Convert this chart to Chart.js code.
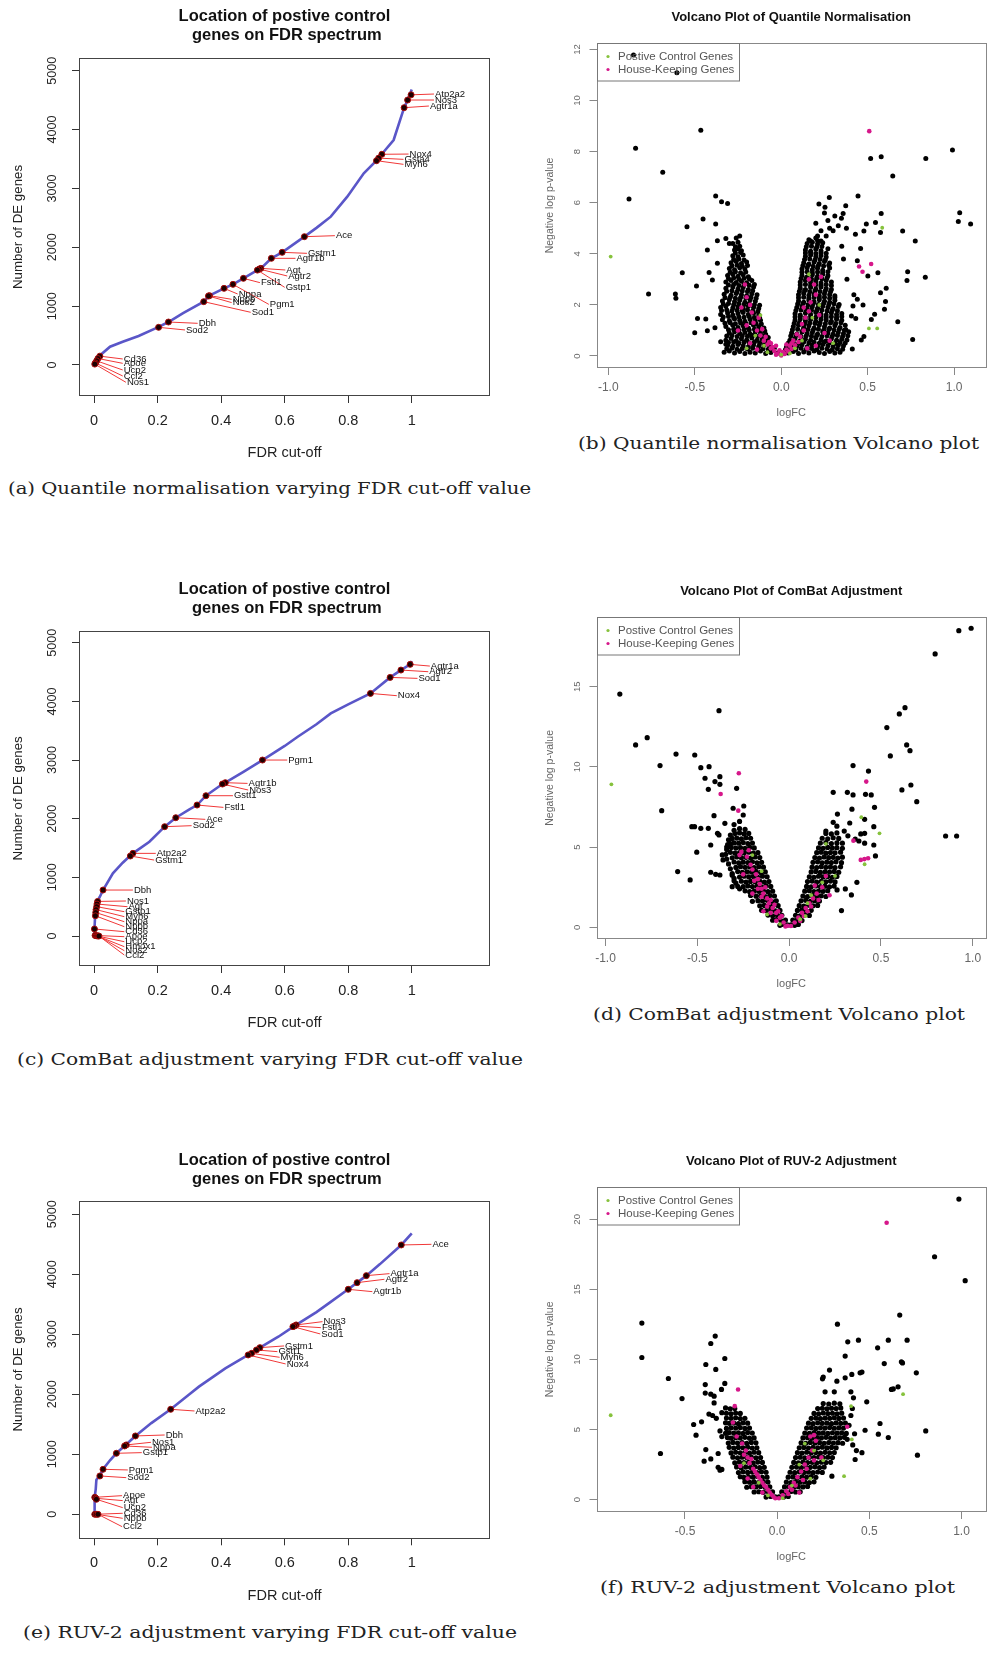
<!DOCTYPE html>
<html>
<head>
<meta charset="utf-8">
<script src="https://cdn.jsdelivr.net/npm/chart.js@4/dist/chart.umd.min.js"></script>
<style>
  html, body { margin: 0; padding: 0; background: #fff; }
  body { position: relative; width: 990px; height: 1679px; overflow: hidden; }
  canvas { position: absolute; }
  .cap { position: absolute; white-space: nowrap; font-family: "DejaVu Serif", "Liberation Serif", serif;
         font-size: 16px; line-height: 20px; color: #222; transform-origin: 0 50%; }
</style>
</head>
<body>
<canvas id="panelA" width="495" height="470" style="left:0px;top:0px"></canvas>
<canvas id="panelB" width="490" height="425" style="left:500px;top:0px"></canvas>
<canvas id="panelC" width="495" height="480" style="left:0px;top:560px"></canvas>
<canvas id="panelD" width="490" height="436" style="left:500px;top:560px"></canvas>
<canvas id="panelE" width="495" height="493" style="left:0px;top:1120px"></canvas>
<canvas id="panelF" width="490" height="449" style="left:500px;top:1120px"></canvas>

<div class="cap" style="left:8px;top:479px" data-width="523">(a) Quantile normalisation varying FDR cut-off value</div>
<div class="cap" style="left:578px;top:434px" data-width="401">(b) Quantile normalisation Volcano plot</div>
<div class="cap" style="left:17px;top:1050px" data-width="506">(c) ComBat adjustment varying FDR cut-off value</div>
<div class="cap" style="left:593px;top:1005px" data-width="372">(d) ComBat adjustment Volcano plot</div>
<div class="cap" style="left:23px;top:1623px" data-width="494">(e) RUV-2 adjustment varying FDR cut-off value</div>
<div class="cap" style="left:600px;top:1578px" data-width="355">(f) RUV-2 adjustment Volcano plot</div>

<script>
// ---- FDR spectrum panels ----
const fdrTitle = ['Location of postive control', ' genes on FDR spectrum'];
const fdrTicks = [0, 0.2, 0.4, 0.6, 0.8, 1];
const countTicks = [0, 1000, 2000, 3000, 4000, 5000];

// (a) quantile normalisation
const fdrCutA = [0, 0.005, 0.012, 0.02, 0.05, 0.09, 0.14, 0.2, 0.234, 0.28, 0.345, 0.363, 0.409, 0.437, 0.47, 0.506, 0.525, 0.558, 0.592, 0.662, 0.7, 0.745, 0.797, 0.849, 0.891, 0.906, 0.943, 0.976, 0.987, 1.0];
const deCountA = [0, 40, 110, 170, 311, 396, 493, 640, 730, 880, 1076, 1178, 1302, 1370, 1472, 1585, 1642, 1812, 1914, 2180, 2330, 2520, 2860, 3257, 3483, 3585, 3823, 4372, 4502, 4680];
const genesA = ['Atp2a2', 'Nos3', 'Agtr1a', 'Nox4', 'Gsta4', 'Myh6', 'Ace', 'Gstm1', 'Agtr1b', 'Agt', 'Agtr2', 'Gstp1', 'Fstl1', 'Pgm1', 'Nppa', 'Nppb', 'Nos2', 'Sod1', 'Dbh', 'Sod2', 'Cd36', 'Apoe', 'Ucp2', 'Ccl2', 'Nos1'];
const genePosA = [[0.998, 4590], [0.987, 4502], [0.976, 4372], [0.906, 3580], [0.896, 3515], [0.889, 3471], [0.662, 2180], [0.592, 1914], [0.558, 1812], [0.525, 1642], [0.52, 1630], [0.514, 1612], [0.47, 1472], [0.437, 1370], [0.409, 1302], [0.363, 1178], [0.36, 1172], [0.345, 1076], [0.234, 730], [0.203, 640], [0.018, 150], [0.012, 110], [0.008, 70], [0.004, 35], [0.002, 15]];
const labelPosA = [[1.07, 4604], [1.07, 4502], [1.054, 4400], [0.99, 3584], [0.974, 3494], [0.974, 3409], [0.758, 2197], [0.67, 1897], [0.634, 1812], [0.602, 1614], [0.608, 1512], [0.6, 1319], [0.522, 1399], [0.55, 1030], [0.452, 1206], [0.433, 1116], [0.433, 1060], [0.493, 895], [0.326, 708], [0.286, 595], [0.09, 102], [0.09, 28], [0.09, -85], [0.09, -187], [0.1, -294]];

// (c) ComBat
const fdrCutC = [0, 0.001, 0.003, 0.007, 0.018, 0.028, 0.059, 0.09, 0.116, 0.122, 0.174, 0.222, 0.257, 0.3, 0.324, 0.352, 0.404, 0.413, 0.47, 0.53, 0.6, 0.641, 0.7, 0.745, 0.8, 0.87, 0.932, 0.966, 0.995, 1.0];
const deCountC = [0, 120, 340, 557, 670, 784, 1068, 1250, 1380, 1409, 1608, 1864, 2017, 2160, 2233, 2392, 2591, 2614, 2800, 3000, 3240, 3398, 3610, 3795, 3950, 4136, 4409, 4534, 4631, 4688];
const genesC = ['Agtr1a', 'Agtr2', 'Sod1', 'Nox4', 'Pgm1', 'Agtr1b', 'Nos3', 'Gstt1', 'Fstl1', 'Ace', 'Sod2', 'Atp2a2', 'Gstm1', 'Dbh', 'Nos1', 'Agt', 'Gstp1', 'Myh6', 'Nppa', 'Nppb', 'Cd36', 'Apoe', 'Ucp2', 'Hmox1', 'Nos2', 'Ccl2'];
const genePosC = [[0.995, 4631], [0.966, 4534], [0.932, 4409], [0.87, 4136], [0.53, 3000], [0.413, 2614], [0.404, 2591], [0.352, 2392], [0.324, 2233], [0.257, 2017], [0.222, 1864], [0.122, 1409], [0.114, 1364], [0.028, 784], [0.011, 590], [0.009, 545], [0.008, 500], [0.006, 450], [0.005, 400], [0.004, 345], [0.001, 120], [0.003, 10], [0.006, 5], [0.009, 3], [0.012, 2], [0.015, 0]];
const labelPosC = [[1.057, 4602], [1.052, 4506], [1.018, 4392], [0.953, 4097], [0.608, 3000], [0.483, 2602], [0.485, 2489], [0.437, 2392], [0.407, 2193], [0.35, 1989], [0.307, 1881], [0.194, 1409], [0.189, 1295], [0.122, 784], [0.1, 597], [0.105, 500], [0.095, 415], [0.095, 330], [0.095, 244], [0.095, 159], [0.095, 74], [0.095, -11], [0.095, -97], [0.095, -182], [0.095, -250], [0.095, -324]];

// (e) RUV-2
const fdrCutE = [0, 0.001, 0.002, 0.005, 0.007, 0.012, 0.018, 0.028, 0.05, 0.07, 0.099, 0.13, 0.18, 0.241, 0.3, 0.33, 0.413, 0.485, 0.522, 0.58, 0.631, 0.7, 0.745, 0.8, 0.828, 0.857, 0.9, 0.967, 1.0];
const deCountE = [0, 150, 283, 420, 572, 610, 639, 750, 900, 1017, 1156, 1306, 1520, 1750, 2000, 2128, 2433, 2656, 2778, 2960, 3140, 3370, 3540, 3750, 3861, 3978, 4170, 4489, 4683];
const genesE = ['Ace', 'Agtr1a', 'Agtr2', 'Agtr1b', 'Nos3', 'Fstl1', 'Sod1', 'Gstm1', 'Gstt1', 'Myh6', 'Nox4', 'Atp2a2', 'Dbh', 'Nos1', 'Nppa', 'Gstp1', 'Pgm1', 'Sod2', 'Apoe', 'Agt', 'Ucp2', 'Cd36', 'Nppb', 'Ccl2'];
const genePosE = [[0.967, 4489], [0.857, 3978], [0.828, 3861], [0.8, 3750], [0.636, 3156], [0.631, 3139], [0.626, 3128], [0.522, 2778], [0.511, 2739], [0.496, 2683], [0.485, 2656], [0.241, 1750], [0.13, 1306], [0.101, 1156], [0.096, 1139], [0.07, 1017], [0.028, 750], [0.018, 639], [0.002, 283], [0.005, 267], [0.007, 250], [0.002, 0], [0.007, 0], [0.012, 0]];
const labelPosE = [[1.062, 4500], [0.93, 4011], [0.914, 3917], [0.876, 3711], [0.719, 3211], [0.714, 3111], [0.712, 3006], [0.598, 2806], [0.577, 2711], [0.584, 2617], [0.603, 2506], [0.316, 1722], [0.222, 1322], [0.179, 1200], [0.182, 1117], [0.15, 1028], [0.106, 739], [0.101, 611], [0.088, 311], [0.09, 228], [0.09, 111], [0.09, 17], [0.09, -67], [0.088, -206]];

// ---- Volcano panels ----
const logFcTicks = [-1, -0.5, 0, 0.5, 1];
const logFcTicksF = [-0.5, 0, 0.5, 1];
const pTicksB = [0, 2, 4, 6, 8, 10, 12];
const pTicksD = [0, 5, 10, 15];
const pTicksF = [0, 5, 10, 15, 20];
const legendLabels = ['Postive Control Genes', 'House-Keeping Genes'];

// (b) quantile normalisation: [logFC, -log p]
const pcgB = [[-0.986, 3.89], [0.584, 5.02], [0.507, 1.08], [0.555, 1.08], [0.16, 3.2], [0.12, 0.6], [0.08, 0.3], [-0.1, 0.4], [-0.15, 0.8], [-0.08, 0.15], [0.05, 0.1], [0.18, 1.5], [0.22, 2.0], [-0.12, 1.6], [0.3, 0.5], [-0.2, 0.3], [0.0, 0.05]];
const hkgB = [[0.509, 8.8], [0, 0.02], [-0.02, 0.1], [0.02, 0.08], [-0.04, 0.2], [0.04, 0.18], [-0.06, 0.3], [0.06, 0.28], [-0.03, 0.05], [0.01, 0.15], [-0.08, 0.45], [0.08, 0.42], [-0.05, 0.35], [0.05, 0.4], [-0.1, 0.6], [0.1, 0.55], [-0.07, 0.55], [0.07, 0.6], [-0.12, 0.8], [0.11, 0.75], [-0.09, 0.75], [0.09, 0.85], [-0.14, 1.0], [0.13, 1.0], [-0.11, 1.05], [0.12, 1.25], [-0.16, 1.3], [-0.13, 1.5], [0.14, 1.5], [-0.17, 1.7], [0.16, 1.75], [0.13, 1.9], [-0.18, 2.0], [0.17, 2.1], [0.2, 2.4], [0.19, 2.8], [0.16, 3.0], [0.23, 3.1], [-0.2, 2.3], [-0.21, 2.8], [-0.23, 1.9], [-0.2, 1.2], [0.22, 1.6], [0.25, 0.9], [0.28, 0.6], [0.45, 3.5], [0.47, 3.3], [0.52, 3.6], [0.2, 0.4], [-0.18, 0.5], [-0.25, 1.0], [0.15, 0.3], [-0.14, 0.25], [-0.01, 0.22], [0.03, 0.25], [-0.06, 0.5], [0.06, 0.5], [-0.03, 0.4], [0.03, 0.45]];
const otherB = [
  [-0.854, 11.78], [-0.603, 11.09], [-0.465, 8.84], [-0.842, 8.13], [-0.685, 7.19], [-0.88, 6.14], [-0.379, 6.26], [-0.345, 6.04], [-0.31, 5.97], [-0.452, 5.36], [-0.545, 5.06], [-0.379, 5.17], [-0.369, 4.51], [-0.427, 4.15], [-0.369, 3.63], [-0.572, 3.26], [-0.417, 3.27], [-0.398, 2.97], [-0.767, 2.43], [-0.612, 2.43], [-0.609, 2.26], [-0.49, 2.74], [-0.484, 1.47], [-0.436, 1.45], [-0.427, 0.99], [-0.5, 0.91], [-0.383, 1.11], [-0.35, 0.56], [-0.32, 0.46],
  [0.517, 7.73], [0.578, 7.8], [0.99, 8.06], [0.836, 7.73], [0.645, 7.04], [0.444, 6.26], [0.278, 6.2], [0.218, 5.95], [0.253, 5.82], [0.373, 5.88], [0.578, 5.58], [1.032, 5.61], [1.024, 5.26], [1.095, 5.17], [0.545, 5.22], [0.492, 5.17], [0.478, 4.89], [0.429, 4.76], [0.574, 4.83], [0.702, 4.89], [0.775, 4.5], [0.31, 5.48], [0.358, 5.58], [0.33, 5.1], [0.377, 5.0], [0.348, 5.39], [0.459, 4.21], [0.44, 3.73], [0.559, 3.26], [0.501, 3.13], [0.731, 3.3], [0.727, 2.95], [0.833, 3.08], [0.607, 2.65], [0.574, 2.48], [0.603, 2.13], [0.597, 1.83], [0.54, 1.63], [0.521, 1.43], [0.674, 1.34], [0.473, 2.0], [0.44, 2.22], [0.415, 1.96], [0.406, 1.57], [0.431, 1.47], [0.478, 0.76], [0.463, 0.63], [0.411, 0.27], [0.76, 0.65], [0.373, 1.04], [0.42, 2.4], [0.38, 3.0], [0.36, 3.8], [0.35, 4.3], [0.27, 5.3], [0.3, 4.9], [0.25, 5.6], [0.2, 5.2], [0.23, 4.9], [0.26, 4.7], [0.28, 5.0], [0.21, 4.7],
  [-0.33, 0.15], [-0.3, 0.2], [-0.27, 0.12], [-0.24, 0.18], [-0.21, 0.1], [-0.18, 0.15], [-0.15, 0.12], [-0.12, 0.2], [-0.09, 0.1], [-0.06, 0.14],
  [-0.31, 0.42], [-0.28, 0.38], [-0.25, 0.45], [-0.22, 0.4], [-0.19, 0.36], [-0.16, 0.43], [-0.13, 0.38], [-0.1, 0.42], [-0.07, 0.35], [-0.04, 0.3],
  [-0.32, 0.62], [-0.29, 0.68], [-0.26, 0.6], [-0.23, 0.67], [-0.2, 0.63], [-0.17, 0.7], [-0.14, 0.62], [-0.11, 0.66], [-0.08, 0.6],
  [-0.3, 0.9], [-0.27, 0.95], [-0.24, 0.88], [-0.21, 0.92], [-0.18, 0.86], [-0.15, 0.94], [-0.12, 0.9], [-0.09, 0.85],
  [-0.32, 1.15], [-0.28, 1.2], [-0.25, 1.12], [-0.22, 1.18], [-0.19, 1.1], [-0.16, 1.2], [-0.13, 1.14], [-0.1, 1.1],
  [-0.34, 1.42], [-0.3, 1.38], [-0.27, 1.45], [-0.24, 1.4], [-0.21, 1.36], [-0.18, 1.44], [-0.15, 1.38], [-0.12, 1.4],
  [-0.35, 1.62], [-0.31, 1.68], [-0.28, 1.6], [-0.25, 1.66], [-0.22, 1.7], [-0.19, 1.62], [-0.16, 1.67], [-0.13, 1.6],
  [-0.35, 1.9], [-0.32, 1.95], [-0.28, 1.88], [-0.25, 1.93], [-0.22, 1.87], [-0.19, 1.95], [-0.16, 1.9], [-0.13, 1.86],
  [-0.34, 2.15], [-0.3, 2.2], [-0.27, 2.12], [-0.24, 2.18], [-0.21, 2.1], [-0.18, 2.2], [-0.15, 2.14],
  [-0.33, 2.42], [-0.29, 2.38], [-0.26, 2.45], [-0.23, 2.4], [-0.2, 2.36], [-0.17, 2.44], [-0.14, 2.4],
  [-0.32, 2.65], [-0.28, 2.7], [-0.25, 2.62], [-0.22, 2.68], [-0.19, 2.6], [-0.16, 2.7],
  [-0.32, 2.9], [-0.29, 2.95], [-0.26, 2.88], [-0.23, 2.93], [-0.2, 2.87], [-0.17, 2.95],
  [-0.31, 3.15], [-0.28, 3.2], [-0.25, 3.12], [-0.22, 3.18], [-0.19, 3.1],
  [-0.3, 3.42], [-0.27, 3.38], [-0.24, 3.45], [-0.21, 3.4],
  [-0.29, 3.65], [-0.26, 3.7], [-0.23, 3.62], [-0.2, 3.68],
  [-0.28, 3.92], [-0.25, 3.88], [-0.22, 3.95],
  [-0.27, 4.15], [-0.25, 4.2], [-0.23, 4.12],
  [-0.28, 4.4], [-0.25, 4.45], [-0.26, 4.62], [-0.24, 4.7], [-0.32, 4.6], [-0.3, 4.4],
  [-0.315, 0.28], [-0.285, 0.3], [-0.255, 0.26], [-0.225, 0.29], [-0.195, 0.27], [-0.165, 0.3], [-0.135, 0.26], [-0.105, 0.28], [-0.075, 0.25], [-0.045, 0.22], [-0.02, 0.12],
  [-0.305, 0.53], [-0.275, 0.55], [-0.245, 0.51], [-0.215, 0.54], [-0.185, 0.52], [-0.155, 0.55], [-0.125, 0.51], [-0.095, 0.53], [-0.065, 0.48],
  [-0.315, 0.78], [-0.285, 0.8], [-0.255, 0.76], [-0.225, 0.79], [-0.195, 0.77], [-0.165, 0.8], [-0.135, 0.76], [-0.105, 0.78], [-0.075, 0.72],
  [-0.305, 1.03], [-0.275, 1.05], [-0.245, 1.01], [-0.215, 1.04], [-0.185, 1.02], [-0.155, 1.05], [-0.125, 1.01], [-0.095, 0.98],
  [-0.325, 1.28], [-0.295, 1.3], [-0.265, 1.26], [-0.235, 1.29], [-0.205, 1.27], [-0.175, 1.3], [-0.145, 1.26], [-0.115, 1.25],
  [-0.335, 1.53], [-0.305, 1.55], [-0.275, 1.51], [-0.245, 1.54], [-0.215, 1.52], [-0.185, 1.55], [-0.155, 1.51], [-0.125, 1.5],
  [-0.345, 1.78], [-0.315, 1.8], [-0.285, 1.76], [-0.255, 1.79], [-0.225, 1.77], [-0.195, 1.8], [-0.165, 1.76], [-0.135, 1.74],
  [-0.335, 2.03], [-0.305, 2.05], [-0.275, 2.01], [-0.245, 2.04], [-0.215, 2.02], [-0.185, 2.05], [-0.155, 2.01], [-0.125, 1.99],
  [-0.325, 2.28], [-0.295, 2.3], [-0.265, 2.26], [-0.235, 2.29], [-0.205, 2.27], [-0.175, 2.3], [-0.145, 2.26],
  [-0.315, 2.53], [-0.285, 2.55], [-0.255, 2.51], [-0.225, 2.54], [-0.195, 2.52], [-0.165, 2.55],
  [-0.305, 2.78], [-0.275, 2.8], [-0.245, 2.76], [-0.215, 2.79], [-0.185, 2.77], [-0.155, 2.8],
  [-0.305, 3.03], [-0.275, 3.05], [-0.245, 3.01], [-0.215, 3.04], [-0.185, 3.02],
  [-0.295, 3.28], [-0.265, 3.3], [-0.235, 3.26], [-0.205, 3.29],
  [-0.285, 3.53], [-0.255, 3.55], [-0.225, 3.51], [-0.195, 3.54],
  [-0.275, 3.78], [-0.245, 3.8], [-0.215, 3.76],
  [-0.265, 4.03], [-0.235, 4.05], [-0.265, 4.28], [-0.24, 4.3],
  [0.04, 0.12], [0.07, 0.18], [0.1, 0.1], [0.13, 0.16], [0.16, 0.12], [0.19, 0.2], [0.22, 0.14], [0.25, 0.1], [0.28, 0.18], [0.31, 0.12], [0.34, 0.15],
  [0.03, 0.35], [0.06, 0.42], [0.09, 0.38], [0.12, 0.44], [0.15, 0.36], [0.18, 0.42], [0.21, 0.38], [0.24, 0.45], [0.27, 0.4], [0.3, 0.36], [0.33, 0.42], [0.36, 0.4],
  [0.05, 0.62], [0.08, 0.68], [0.11, 0.6], [0.14, 0.66], [0.17, 0.62], [0.2, 0.7], [0.23, 0.64], [0.26, 0.6], [0.29, 0.67], [0.32, 0.62], [0.35, 0.66], [0.38, 0.63],
  [0.06, 0.9], [0.09, 0.86], [0.12, 0.94], [0.15, 0.88], [0.18, 0.92], [0.21, 0.86], [0.24, 0.95], [0.27, 0.9], [0.3, 0.86], [0.33, 0.92], [0.36, 0.88], [0.39, 0.95],
  [0.07, 1.15], [0.1, 1.2], [0.13, 1.12], [0.16, 1.18], [0.19, 1.1], [0.22, 1.2], [0.25, 1.14], [0.28, 1.1], [0.31, 1.18], [0.34, 1.12], [0.37, 1.2],
  [0.08, 1.4], [0.11, 1.45], [0.14, 1.38], [0.17, 1.43], [0.2, 1.36], [0.23, 1.44], [0.26, 1.4], [0.29, 1.36], [0.32, 1.44], [0.35, 1.4],
  [0.08, 1.65], [0.11, 1.6], [0.14, 1.68], [0.17, 1.62], [0.2, 1.7], [0.23, 1.64], [0.26, 1.6], [0.29, 1.68], [0.32, 1.62], [0.35, 1.66],
  [0.09, 1.9], [0.12, 1.95], [0.15, 1.88], [0.18, 1.93], [0.21, 1.87], [0.24, 1.95], [0.27, 1.9], [0.3, 1.86], [0.33, 1.94],
  [0.1, 2.15], [0.13, 2.1], [0.16, 2.18], [0.19, 2.12], [0.22, 2.2], [0.25, 2.14], [0.28, 2.1], [0.31, 2.18],
  [0.1, 2.4], [0.13, 2.45], [0.16, 2.38], [0.19, 2.43], [0.22, 2.36], [0.25, 2.44], [0.28, 2.4], [0.31, 2.36],
  [0.11, 2.65], [0.14, 2.6], [0.17, 2.68], [0.2, 2.62], [0.23, 2.7], [0.26, 2.64], [0.29, 2.6],
  [0.11, 2.9], [0.14, 2.95], [0.17, 2.88], [0.2, 2.93], [0.23, 2.86], [0.26, 2.95], [0.29, 2.9],
  [0.12, 3.15], [0.15, 3.1], [0.18, 3.18], [0.21, 3.12], [0.24, 3.2], [0.27, 3.14],
  [0.12, 3.4], [0.15, 3.45], [0.18, 3.38], [0.21, 3.43], [0.24, 3.36], [0.28, 3.44],
  [0.13, 3.65], [0.16, 3.6], [0.19, 3.68], [0.22, 3.62], [0.25, 3.7], [0.28, 3.64],
  [0.14, 3.9], [0.17, 3.95], [0.2, 3.88], [0.23, 3.93], [0.26, 3.87],
  [0.14, 4.15], [0.17, 4.1], [0.2, 4.18], [0.23, 4.12], [0.27, 4.2],
  [0.15, 4.4], [0.18, 4.45], [0.21, 4.38], [0.24, 4.43],
  [0.16, 4.55], [0.2, 4.62], [0.23, 4.5],
  [0.025, 0.25], [0.055, 0.28], [0.085, 0.24], [0.115, 0.3], [0.145, 0.26], [0.175, 0.29], [0.205, 0.25], [0.235, 0.3], [0.265, 0.27], [0.295, 0.24], [0.325, 0.28], [0.355, 0.26],
  [0.04, 0.5], [0.07, 0.53], [0.1, 0.49], [0.13, 0.55], [0.16, 0.51], [0.19, 0.54], [0.22, 0.5], [0.25, 0.55], [0.28, 0.52], [0.31, 0.49], [0.34, 0.53], [0.37, 0.51],
  [0.055, 0.78], [0.085, 0.8], [0.115, 0.76], [0.145, 0.79], [0.175, 0.77], [0.205, 0.8], [0.235, 0.76], [0.265, 0.79], [0.295, 0.77], [0.325, 0.8], [0.355, 0.76], [0.385, 0.79],
  [0.065, 1.03], [0.095, 1.05], [0.125, 1.01], [0.155, 1.04], [0.185, 1.02], [0.215, 1.05], [0.245, 1.01], [0.275, 1.04], [0.305, 1.02], [0.335, 1.05], [0.365, 1.01],
  [0.075, 1.28], [0.105, 1.3], [0.135, 1.26], [0.165, 1.29], [0.195, 1.27], [0.225, 1.3], [0.255, 1.26], [0.285, 1.29], [0.315, 1.27], [0.345, 1.3],
  [0.08, 1.53], [0.11, 1.55], [0.14, 1.51], [0.17, 1.54], [0.2, 1.52], [0.23, 1.55], [0.26, 1.51], [0.29, 1.54], [0.32, 1.52], [0.35, 1.55],
  [0.085, 1.78], [0.115, 1.8], [0.145, 1.76], [0.175, 1.79], [0.205, 1.77], [0.235, 1.8], [0.265, 1.76], [0.295, 1.79], [0.325, 1.77],
  [0.095, 2.03], [0.125, 2.05], [0.155, 2.01], [0.185, 2.04], [0.215, 2.02], [0.245, 2.05], [0.275, 2.01], [0.305, 2.04], [0.335, 2.02],
  [0.1, 2.28], [0.13, 2.3], [0.16, 2.26], [0.19, 2.29], [0.22, 2.27], [0.25, 2.3], [0.28, 2.26], [0.31, 2.29],
  [0.105, 2.53], [0.135, 2.55], [0.165, 2.51], [0.195, 2.54], [0.225, 2.52], [0.255, 2.55], [0.285, 2.51],
  [0.11, 2.78], [0.14, 2.8], [0.17, 2.76], [0.2, 2.79], [0.23, 2.77], [0.26, 2.8], [0.29, 2.76],
  [0.115, 3.03], [0.145, 3.05], [0.175, 3.01], [0.205, 3.04], [0.235, 3.02], [0.265, 3.05],
  [0.12, 3.28], [0.15, 3.3], [0.18, 3.26], [0.21, 3.29], [0.24, 3.27], [0.27, 3.3],
  [0.125, 3.53], [0.155, 3.55], [0.185, 3.51], [0.215, 3.54], [0.245, 3.52], [0.275, 3.55],
  [0.135, 3.78], [0.165, 3.8], [0.195, 3.76], [0.225, 3.79], [0.255, 3.77],
  [0.14, 4.03], [0.17, 4.05], [0.2, 4.01], [0.23, 4.04], [0.26, 4.02],
  [0.145, 4.28], [0.175, 4.3], [0.205, 4.26], [0.235, 4.29], [0.17, 4.5], [0.21, 4.52]
];

// (d) ComBat
const pcgD = [[-0.968, 8.91], [0.393, 6.86], [0.492, 5.86], [0.411, 3.93], [0.1, 1.5], [0.12, 2.0], [0.2, 5.2], [-0.15, 3.5], [-0.12, 0.8], [0.06, 0.5], [0.25, 3.2], [0.18, 2.8], [-0.2, 4.5], [-0.05, 0.2], [0.09, 0.7]];
const hkgD = [[-0.274, 9.6], [0.42, 9.08], [-0.373, 8.31], [-0.277, 7.27], [0.39, 4.2], [0.41, 4.25], [0.43, 4.3], [0.35, 5.4],
  [-0.01, 0.1], [-0.03, 0.3], [-0.05, 0.6], [-0.07, 0.9], [-0.09, 1.2], [-0.11, 1.5], [-0.12, 1.8], [-0.14, 2.1], [-0.15, 2.4], [-0.16, 2.7], [-0.17, 3.0], [-0.18, 3.3], [-0.2, 3.6], [-0.04, 0.7], [-0.06, 1.0], [-0.08, 1.4], [-0.1, 1.7], [-0.13, 2.5], [-0.19, 2.9], [-0.17, 2.4], [-0.15, 1.9], [-0.12, 1.3], [-0.1, 0.9], [-0.21, 3.9], [-0.23, 4.4], [-0.26, 4.7], [-0.27, 4.5], [-0.22, 4.8], [-0.25, 3.3], [-0.2, 2.1], [-0.14, 1.0], [-0.07, 0.4], [-0.02, 0.05],
  [0.01, 0.08], [0.03, 0.3], [0.05, 0.6], [0.07, 0.9], [0.09, 1.2], [0.11, 1.5], [0.13, 1.8], [0.15, 2.1], [0.06, 0.4], [0.08, 0.7], [0.1, 1.0], [0.12, 1.3], [0.16, 1.7], [0.18, 2.5], [0.2, 3.2], [0.14, 2.6], [0.22, 2.0]];
const otherD = [
  [0.991, 18.64], [0.924, 18.49], [0.795, 17.04], [-0.922, 14.54], [-0.382, 13.5], [0.631, 13.69], [0.6, 13.3], [0.532, 12.45], [-0.773, 11.82], [-0.836, 11.37], [0.64, 11.37], [0.658, 11.01], [-0.616, 10.8], [-0.514, 10.74], [0.551, 10.68], [-0.703, 10.08], [-0.481, 9.95], [-0.436, 10.01], [0.348, 10.08], [0.432, 9.74], [-0.458, 9.29], [-0.404, 9.08], [-0.377, 9.39], [-0.377, 8.91], [-0.44, 8.6], [-0.286, 8.66], [0.663, 8.87], [0.614, 8.56], [0.24, 8.41], [0.317, 8.41], [0.348, 8.25], [0.416, 8.29], [0.447, 8.25], [0.695, 7.83], [-0.694, 7.27], [-0.305, 7.42], [-0.247, 7.56], [0.465, 7.48], [0.342, 7.36], [0.263, 7.06], [-0.409, 6.96], [0.411, 6.73], [0.24, 6.54], [-0.53, 6.27], [-0.515, 6.27], [-0.481, 6.17], [-0.44, 6.17], [-0.35, 6.48], [0.461, 6.27], [-0.382, 5.76], [-0.39, 5.86], [0.411, 5.86], [0.39, 5.82], [0.36, 5.5], [0.38, 5.38], [0.411, 5.24], [-0.427, 5.13], [0.461, 5.13], [-0.503, 4.68], [0.47, 4.45], [-0.364, 4.51], [-0.427, 3.43], [-0.4, 3.3], [-0.377, 3.26], [-0.607, 3.47], [-0.539, 2.95], [0.369, 2.8], [0.261, 2.33], [0.306, 2.39], [0.339, 2.02], [0.285, 1.04], [-0.31, 2.53], [0.852, 5.69], [0.912, 5.69], [-0.25, 7.0], [-0.27, 6.6], [-0.3, 6.4], [0.3, 6.0], [0.32, 5.7], [0.26, 6.3], [0.33, 6.5], [0.2, 6.0], [-0.34, 5.0], [-0.36, 4.2],
  [-0.27, 2.4], [-0.29, 2.75], [-0.3, 3.05], [-0.31, 3.35], [-0.32, 3.65], [-0.33, 3.95], [-0.34, 4.25], [-0.345, 4.55], [-0.34, 4.85], [-0.335, 5.15], [-0.33, 5.45], [-0.32, 5.75], [-0.28, 2.55], [-0.3, 2.9], [-0.31, 3.25],
  [-0.01, 0.15], [-0.03, 0.18], [-0.05, 0.12],
  [-0.02, 0.45], [-0.045, 0.42], [-0.07, 0.48], [-0.09, 0.44],
  [-0.04, 0.75], [-0.065, 0.78], [-0.09, 0.72], [-0.115, 0.76],
  [-0.05, 1.05], [-0.075, 1.02], [-0.1, 1.08], [-0.125, 1.04], [-0.15, 1.06],
  [-0.06, 1.35], [-0.085, 1.38], [-0.11, 1.32], [-0.135, 1.36], [-0.16, 1.34],
  [-0.07, 1.65], [-0.095, 1.62], [-0.12, 1.68], [-0.145, 1.64], [-0.17, 1.66], [-0.2, 1.62],
  [-0.08, 1.95], [-0.105, 1.98], [-0.13, 1.92], [-0.155, 1.96], [-0.18, 1.94], [-0.21, 1.98],
  [-0.09, 2.25], [-0.115, 2.22], [-0.14, 2.28], [-0.165, 2.24], [-0.19, 2.26], [-0.215, 2.22], [-0.24, 2.27],
  [-0.1, 2.55], [-0.125, 2.58], [-0.15, 2.52], [-0.175, 2.56], [-0.2, 2.54], [-0.225, 2.58], [-0.25, 2.53],
  [-0.11, 2.85], [-0.135, 2.82], [-0.16, 2.88], [-0.185, 2.84], [-0.21, 2.86], [-0.235, 2.82], [-0.26, 2.87],
  [-0.12, 3.15], [-0.145, 3.18], [-0.17, 3.12], [-0.195, 3.16], [-0.22, 3.14], [-0.245, 3.18], [-0.27, 3.13],
  [-0.13, 3.45], [-0.155, 3.42], [-0.18, 3.48], [-0.205, 3.44], [-0.23, 3.46], [-0.255, 3.42], [-0.28, 3.47],
  [-0.14, 3.75], [-0.165, 3.78], [-0.19, 3.72], [-0.215, 3.76], [-0.24, 3.74], [-0.265, 3.78], [-0.29, 3.73],
  [-0.15, 4.05], [-0.175, 4.02], [-0.2, 4.08], [-0.225, 4.04], [-0.25, 4.06], [-0.275, 4.02], [-0.3, 4.07],
  [-0.16, 4.35], [-0.185, 4.38], [-0.21, 4.32], [-0.235, 4.36], [-0.26, 4.34], [-0.285, 4.38], [-0.31, 4.33],
  [-0.17, 4.65], [-0.195, 4.62], [-0.22, 4.68], [-0.245, 4.64], [-0.27, 4.66], [-0.295, 4.62], [-0.32, 4.67],
  [-0.19, 4.95], [-0.215, 4.98], [-0.24, 4.92], [-0.265, 4.96], [-0.29, 4.94], [-0.315, 4.98],
  [-0.2, 5.25], [-0.225, 5.22], [-0.25, 5.28], [-0.275, 5.24], [-0.3, 5.26], [-0.32, 5.22],
  [-0.21, 5.55], [-0.235, 5.58], [-0.26, 5.52], [-0.285, 5.56], [-0.31, 5.54],
  [-0.22, 5.85], [-0.245, 5.82], [-0.27, 5.88], [-0.295, 5.84],
  [-0.24, 6.1], [-0.27, 6.15], [-0.3, 6.05],
  [0.01, 0.15], [0.03, 0.12], [0.05, 0.18],
  [0.02, 0.45], [0.045, 0.48], [0.07, 0.42],
  [0.035, 0.75], [0.06, 0.72], [0.085, 0.78], [0.11, 0.74],
  [0.045, 1.05], [0.07, 1.08], [0.095, 1.02], [0.12, 1.06],
  [0.055, 1.35], [0.08, 1.32], [0.105, 1.38], [0.13, 1.34], [0.155, 1.36],
  [0.065, 1.65], [0.09, 1.68], [0.115, 1.62], [0.14, 1.66], [0.165, 1.64],
  [0.075, 1.95], [0.1, 1.92], [0.125, 1.98], [0.15, 1.94], [0.175, 1.96], [0.2, 1.92],
  [0.085, 2.25], [0.11, 2.28], [0.135, 2.22], [0.16, 2.26], [0.185, 2.24], [0.21, 2.28],
  [0.095, 2.55], [0.12, 2.52], [0.145, 2.58], [0.17, 2.54], [0.195, 2.56], [0.22, 2.52], [0.245, 2.57],
  [0.1, 2.85], [0.125, 2.88], [0.15, 2.82], [0.175, 2.86], [0.2, 2.84], [0.225, 2.88], [0.25, 2.83],
  [0.11, 3.15], [0.135, 3.12], [0.16, 3.18], [0.185, 3.14], [0.21, 3.16], [0.235, 3.12], [0.26, 3.17],
  [0.12, 3.45], [0.145, 3.48], [0.17, 3.42], [0.195, 3.46], [0.22, 3.44], [0.245, 3.48], [0.27, 3.43],
  [0.125, 3.75], [0.15, 3.72], [0.175, 3.78], [0.2, 3.74], [0.225, 3.76], [0.25, 3.72], [0.28, 3.77],
  [0.13, 4.05], [0.155, 4.08], [0.18, 4.02], [0.205, 4.06], [0.23, 4.04], [0.255, 4.08], [0.285, 4.03],
  [0.14, 4.35], [0.165, 4.32], [0.19, 4.38], [0.215, 4.34], [0.24, 4.36], [0.265, 4.32], [0.29, 4.37],
  [0.15, 4.65], [0.175, 4.68], [0.2, 4.62], [0.225, 4.66], [0.25, 4.64], [0.28, 4.68],
  [0.16, 4.95], [0.185, 4.92], [0.21, 4.98], [0.235, 4.94], [0.26, 4.96], [0.29, 4.92],
  [0.17, 5.25], [0.2, 5.28], [0.23, 5.22], [0.26, 5.26], [0.29, 5.24],
  [0.18, 5.55], [0.21, 5.52], [0.24, 5.58], [0.27, 5.54],
  [0.2, 5.85], [0.23, 5.82], [0.26, 5.88]
];

// (f) RUV-2
const pcgF = [[-0.903, 6.02], [0.683, 7.52], [0.401, 6.67], [0.405, 4.29], [0.363, 1.67], [0.15, 4.0], [0.2, 3.5], [0.12, 2.5], [0.08, 1.0], [-0.05, 0.3], [-0.1, 1.2], [0.03, 0.1], [0.25, 2.8], [0.18, 1.5], [-0.18, 2.6]];
const hkgF = [[0.594, 19.76], [-0.212, 7.86], [-0.23, 6.67], [0.38, 5.2], [0.2, 4.6],
  [-0.01, 0.1], [-0.03, 0.35], [-0.05, 0.7], [-0.07, 1.0], [-0.09, 1.4], [-0.11, 1.8], [-0.13, 2.2], [-0.15, 2.6], [-0.16, 3.0], [-0.17, 3.5], [-0.19, 4.0], [-0.04, 0.5], [-0.06, 0.9], [-0.08, 1.2], [-0.1, 1.6], [-0.12, 2.0], [-0.14, 2.9], [-0.18, 3.2], [-0.2, 2.4], [-0.16, 1.5], [-0.13, 0.9], [-0.22, 4.5], [-0.24, 5.5], [-0.02, 0.2], [-0.08, 0.5],
  [0.01, 0.1], [0.03, 0.3], [0.05, 0.6], [0.07, 0.9], [0.09, 1.2], [0.11, 1.6], [0.13, 2.0], [0.15, 2.5], [0.17, 3.0], [0.19, 3.5], [0.06, 0.4], [0.08, 0.7], [0.1, 1.0], [0.14, 1.4], [0.16, 2.2], [0.21, 4.2], [0.24, 3.0], [0.18, 4.5], [0.12, 0.5], [0.2, 2.8]];
const otherF = [
  [0.986, 21.45], [0.854, 17.33], [1.02, 15.62], [0.665, 13.17], [-0.734, 12.6], [0.327, 12.52], [-0.336, 11.67], [-0.36, 11.14], [0.383, 11.26], [0.441, 11.38], [0.603, 11.38], [0.705, 11.38], [0.545, 10.83], [-0.734, 10.14], [-0.284, 10.07], [0.369, 10.24], [-0.387, 9.64], [-0.333, 9.29], [0.581, 9.71], [0.674, 9.83], [0.68, 9.75], [0.284, 9.24], [0.755, 9.05], [0.45, 9.05], [0.46, 9.1], [0.405, 8.93], [-0.59, 8.64], [0.25, 8.75], [0.246, 8.62], [0.324, 8.45], [-0.284, 8.29], [-0.39, 8.21], [0.656, 8.05], [0.62, 7.86], [0.63, 7.9], [0.369, 8.69], [-0.39, 7.6], [-0.36, 7.52], [-0.302, 7.86], [0.26, 7.69], [0.31, 7.69], [0.4, 7.69], [0.414, 7.26], [-0.342, 7.38], [-0.516, 7.21], [-0.342, 6.9], [0.486, 6.98], [0.408, 6.5], [-0.41, 5.55], [0.558, 5.43], [-0.453, 5.36], [0.549, 4.67], [0.603, 4.43], [0.477, 4.95], [0.806, 4.9], [0.41, 3.9], [0.43, 3.5], [0.46, 3.35], [-0.633, 3.29], [-0.387, 3.57], [-0.32, 3.29], [0.761, 3.17], [-0.36, 2.9], [-0.396, 2.74], [0.423, 2.86], [-0.32, 2.3], [-0.3, 2.15], [-0.31, 2.1], [0.297, 1.67], [-0.3, 6.2], [-0.35, 6.0], [-0.33, 5.8], [-0.37, 6.1], [-0.31, 4.9], [-0.3, 4.5], [0.4, 6.0], [0.39, 5.3], [0.42, 4.7], [0.38, 4.3], [-0.44, 4.6],
  [-0.01, 0.2], [-0.035, 0.22], [-0.06, 0.18],
  [-0.025, 0.55], [-0.05, 0.58], [-0.075, 0.52], [-0.1, 0.56], [-0.125, 0.54],
  [-0.04, 0.9], [-0.065, 0.88], [-0.09, 0.94], [-0.115, 0.9], [-0.14, 0.92], [-0.165, 0.88],
  [-0.05, 1.25], [-0.075, 1.28], [-0.1, 1.22], [-0.125, 1.26], [-0.15, 1.24], [-0.175, 1.28],
  [-0.055, 1.6], [-0.08, 1.58], [-0.105, 1.64], [-0.13, 1.6], [-0.155, 1.62], [-0.18, 1.58], [-0.2, 1.63],
  [-0.06, 1.95], [-0.085, 1.98], [-0.11, 1.92], [-0.135, 1.96], [-0.16, 1.94], [-0.185, 1.98], [-0.21, 1.93],
  [-0.07, 2.3], [-0.095, 2.28], [-0.12, 2.34], [-0.145, 2.3], [-0.17, 2.32], [-0.195, 2.28], [-0.22, 2.33],
  [-0.08, 2.65], [-0.105, 2.68], [-0.13, 2.62], [-0.155, 2.66], [-0.18, 2.64], [-0.205, 2.68], [-0.23, 2.63],
  [-0.09, 3.0], [-0.115, 2.98], [-0.14, 3.04], [-0.165, 3.0], [-0.19, 3.02], [-0.215, 2.98], [-0.24, 3.03],
  [-0.1, 3.35], [-0.125, 3.38], [-0.15, 3.32], [-0.175, 3.36], [-0.2, 3.34], [-0.225, 3.38], [-0.25, 3.33],
  [-0.11, 3.7], [-0.135, 3.68], [-0.16, 3.74], [-0.185, 3.7], [-0.21, 3.72], [-0.235, 3.68], [-0.26, 3.73],
  [-0.115, 4.05], [-0.14, 4.08], [-0.165, 4.02], [-0.19, 4.06], [-0.215, 4.04], [-0.24, 4.08], [-0.265, 4.03],
  [-0.125, 4.4], [-0.15, 4.38], [-0.175, 4.44], [-0.2, 4.4], [-0.225, 4.42], [-0.25, 4.38], [-0.27, 4.43],
  [-0.135, 4.75], [-0.16, 4.78], [-0.185, 4.72], [-0.21, 4.76], [-0.235, 4.74], [-0.26, 4.78], [-0.28, 4.73],
  [-0.15, 5.1], [-0.175, 5.08], [-0.2, 5.14], [-0.225, 5.1], [-0.25, 5.12], [-0.275, 5.08],
  [-0.16, 5.45], [-0.185, 5.48], [-0.21, 5.42], [-0.235, 5.46], [-0.26, 5.44], [-0.28, 5.48],
  [-0.175, 5.8], [-0.2, 5.78], [-0.225, 5.84], [-0.25, 5.8], [-0.275, 5.82],
  [-0.2, 6.15], [-0.225, 6.18], [-0.25, 6.12], [-0.275, 6.16],
  [-0.23, 6.5], [-0.255, 6.48], [-0.28, 6.54],
  [0.01, 0.2], [0.035, 0.18], [0.06, 0.22],
  [0.025, 0.55], [0.05, 0.52], [0.075, 0.58], [0.1, 0.54], [0.125, 0.56],
  [0.04, 0.9], [0.065, 0.92], [0.09, 0.88], [0.115, 0.92], [0.14, 0.9], [0.165, 0.94],
  [0.05, 1.25], [0.075, 1.22], [0.1, 1.28], [0.125, 1.24], [0.15, 1.26], [0.175, 1.22], [0.2, 1.27],
  [0.06, 1.6], [0.085, 1.62], [0.11, 1.58], [0.135, 1.62], [0.16, 1.6], [0.185, 1.64], [0.21, 1.59],
  [0.07, 1.95], [0.095, 1.92], [0.12, 1.98], [0.145, 1.94], [0.17, 1.96], [0.195, 1.92], [0.22, 1.97], [0.245, 1.94],
  [0.08, 2.3], [0.105, 2.32], [0.13, 2.28], [0.155, 2.32], [0.18, 2.3], [0.205, 2.34], [0.23, 2.29], [0.255, 2.32],
  [0.09, 2.65], [0.115, 2.62], [0.14, 2.68], [0.165, 2.64], [0.19, 2.66], [0.215, 2.62], [0.24, 2.67], [0.265, 2.64], [0.29, 2.66],
  [0.1, 3.0], [0.125, 3.02], [0.15, 2.98], [0.175, 3.02], [0.2, 3.0], [0.225, 3.04], [0.25, 2.99], [0.275, 3.02], [0.3, 3.0],
  [0.11, 3.35], [0.135, 3.32], [0.16, 3.38], [0.185, 3.34], [0.21, 3.36], [0.235, 3.32], [0.26, 3.37], [0.285, 3.34], [0.31, 3.36],
  [0.12, 3.7], [0.145, 3.72], [0.17, 3.68], [0.195, 3.72], [0.22, 3.7], [0.245, 3.74], [0.27, 3.69], [0.295, 3.72], [0.32, 3.7],
  [0.13, 4.05], [0.155, 4.02], [0.18, 4.08], [0.205, 4.04], [0.23, 4.06], [0.255, 4.02], [0.28, 4.07], [0.305, 4.04], [0.33, 4.06], [0.355, 4.02],
  [0.14, 4.4], [0.165, 4.42], [0.19, 4.38], [0.215, 4.42], [0.24, 4.4], [0.265, 4.44], [0.29, 4.39], [0.315, 4.42], [0.34, 4.4], [0.365, 4.44],
  [0.15, 4.75], [0.175, 4.72], [0.2, 4.78], [0.225, 4.74], [0.25, 4.76], [0.275, 4.72], [0.3, 4.77], [0.325, 4.74], [0.35, 4.76], [0.375, 4.72],
  [0.16, 5.1], [0.185, 5.12], [0.21, 5.08], [0.235, 5.12], [0.26, 5.1], [0.285, 5.14], [0.31, 5.09], [0.335, 5.12], [0.36, 5.1],
  [0.17, 5.45], [0.195, 5.42], [0.22, 5.48], [0.245, 5.44], [0.27, 5.46], [0.295, 5.42], [0.32, 5.47], [0.345, 5.44], [0.37, 5.46],
  [0.185, 5.8], [0.21, 5.82], [0.235, 5.78], [0.26, 5.82], [0.285, 5.8], [0.31, 5.84], [0.335, 5.79], [0.36, 5.82],
  [0.2, 6.15], [0.225, 6.12], [0.25, 6.18], [0.275, 6.14], [0.3, 6.16], [0.325, 6.12], [0.35, 6.17],
  [0.22, 6.5], [0.245, 6.52], [0.27, 6.48], [0.295, 6.52], [0.32, 6.5], [0.345, 6.54],
  [0.25, 6.85], [0.28, 6.82], [0.31, 6.88], [0.34, 6.84]
];

// ---------------------------------------------------------------------
Chart.defaults.font.family = '"Liberation Sans", Arial, Helvetica, sans-serif';
Chart.defaults.color = '#222';

const PCG_COLOR = '#86c23c';
const HKG_COLOR = '#d6178a';

const toXY = pts => pts.map(p => ({ x: p[0], y: p[1] }));
const fixTicks = vals => scale => { scale.ticks = vals.map(v => ({ value: v })); };

// box round the plotting region, like R's box()
function framePlugin(color) {
  return {
    id: 'frame',
    afterDatasetsDraw(chart) {
      const { ctx, chartArea: a } = chart;
      ctx.save();
      ctx.strokeStyle = color;
      ctx.lineWidth = 1;
      ctx.strokeRect(Math.round(a.left) + 0.5, Math.round(a.top) + 0.5,
        Math.round(a.right - a.left) - 1, Math.round(a.bottom - a.top) - 1);
      ctx.restore();
    }
  };
}

// gene names at the end of the red pointer lines
function geneLabelPlugin(names, at) {
  return {
    id: 'geneLabels',
    afterDatasetsDraw(chart) {
      const { ctx, scales: { x, y } } = chart;
      ctx.save();
      ctx.font = '9.5px "Liberation Sans", Arial, sans-serif';
      ctx.fillStyle = '#111';
      ctx.textAlign = 'left';
      ctx.textBaseline = 'middle';
      names.forEach((name, i) => {
        ctx.fillText(name, x.getPixelForValue(at[i][0]) + 1, y.getPixelForValue(at[i][1]));
      });
      ctx.restore();
    }
  };
}

// R-style legend box in the top-left corner of the plot
const boxLegendPlugin = {
  id: 'boxLegend',
  afterDatasetsDraw(chart) {
    const { ctx, chartArea: { left, top } } = chart;
    const items = chart.data.datasets.filter(d => d.label);
    const x0 = Math.round(left) + 0.5, y0 = Math.round(top) + 0.5;
    ctx.save();
    ctx.strokeStyle = '#777';
    ctx.lineWidth = 1;
    ctx.strokeRect(x0, y0, 142, 37.5);
    ctx.font = '11.5px "Liberation Sans", Arial, sans-serif';
    ctx.textBaseline = 'middle';
    items.forEach((d, i) => {
      const yy = y0 + 13 + i * 13;
      ctx.beginPath();
      ctx.arc(x0 + 10.5, yy, 1.6, 0, Math.PI * 2);
      ctx.fillStyle = d.pointBackgroundColor;
      ctx.fill();
      ctx.fillStyle = '#555';
      ctx.fillText(d.label, x0 + 20.5, yy);
    });
    ctx.restore();
  }
};

function drawFdrPanel(id, cfg) {
  const datasets = [
    { data: toXY(cfg.genePos), showLine: false, pointRadius: 3,
      pointBackgroundColor: '#1c0000', pointBorderColor: '#a80c0c', pointBorderWidth: 1 },
    { data: cfg.fdr.map((v, i) => ({ x: v, y: cfg.counts[i] })), showLine: true,
      borderColor: '#5a56c8', borderWidth: 2.6, pointRadius: 0 }
  ];
  cfg.genePos.forEach((p, i) => {
    datasets.push({ data: toXY([p, cfg.labelPos[i]]), showLine: true,
      borderColor: '#f03838', borderWidth: 1, pointRadius: 0 });
  });

  new Chart(document.getElementById(id), {
    type: 'scatter',
    data: { datasets },
    options: {
      responsive: false, animation: false, devicePixelRatio: 1,
      layout: { padding: { left: 0, right: 1, top: 0, bottom: 0 } },
      plugins: {
        legend: { display: false },
        tooltip: { enabled: false },
        title: {
          display: true, text: fdrTitle, fullSize: false, color: '#111',
          font: { size: 16.5, weight: 'bold', lineHeight: 19 / 16.5 },
          padding: { top: cfg.titleTop, bottom: cfg.titleBottom }
        }
      },
      scales: {
        x: {
          type: 'linear', min: -0.0477, max: 1.2464,
          afterBuildTicks: fixTicks(fdrTicks),
          afterFit: s => { s.height = cfg.xHeight; },
          grid: { drawOnChartArea: false, tickLength: 7, color: '#333' },
          border: { display: false },
          ticks: { font: { size: 14.5 }, color: '#222', padding: 8.8, maxRotation: 0, autoSkip: false,
                   callback: v => String(v) },
          title: { display: true, text: 'FDR cut-off', font: { size: 14.5 }, color: '#222',
                   padding: { top: 0, bottom: 8.8 } }
        },
        y: {
          type: 'linear', min: cfg.yMin, max: cfg.yMax,
          afterBuildTicks: fixTicks(countTicks),
          afterFit: s => { s.width = 79; },
          grid: { drawOnChartArea: false, tickLength: 7, color: '#333' },
          border: { display: false },
          ticks: { font: { size: 12.6 }, color: '#222', padding: 5.5, minRotation: 90, maxRotation: 90,
                   crossAlign: 'center', autoSkip: false, callback: v => String(v) },
          title: { display: true, text: 'Number of DE genes', font: { size: 13.3 }, color: '#222',
                   padding: { top: 10, bottom: 0 } }
        }
      }
    },
    plugins: [framePlugin('#444'), geneLabelPlugin(cfg.genes, cfg.labelPos)]
  });
}

function drawVolcano(id, cfg) {
  const datasets = [
    { label: legendLabels[0], data: toXY(cfg.pcg), pointRadius: 1.9,
      pointBackgroundColor: PCG_COLOR, pointBorderColor: PCG_COLOR, pointBorderWidth: 0 },
    { label: legendLabels[1], data: toXY(cfg.hkg), pointRadius: 2.3,
      pointBackgroundColor: HKG_COLOR, pointBorderColor: HKG_COLOR, pointBorderWidth: 0 },
    { label: '', data: toXY(cfg.other), pointRadius: cfg.radius,
      pointBackgroundColor: '#000', pointBorderColor: '#000', pointBorderWidth: 0 }
  ];

  new Chart(document.getElementById(id), {
    type: 'scatter',
    data: { datasets },
    options: {
      responsive: false, animation: false, devicePixelRatio: 1,
      layout: { padding: { left: 0, right: 1, top: 0, bottom: 0 } },
      plugins: {
        legend: { display: false },
        tooltip: { enabled: false },
        title: {
          display: true, text: cfg.title, fullSize: false, color: '#111',
          font: { size: 13, weight: 'bold', lineHeight: 1.2 },
          padding: { top: cfg.titleTop, bottom: cfg.titleBottom }
        }
      },
      scales: {
        x: {
          type: 'linear', min: cfg.xMin, max: cfg.xMax,
          afterBuildTicks: fixTicks(cfg.xTicks),
          afterFit: s => { s.height = 57; },
          grid: { drawOnChartArea: false, tickLength: 7, color: '#888' },
          border: { display: false },
          ticks: { font: { size: 12 }, color: '#666', padding: 5, maxRotation: 0, autoSkip: false,
                   callback: v => v.toFixed(1) },
          title: { display: true, text: 'logFC', font: { size: 11 }, color: '#666',
                   padding: { top: 0, bottom: 5.7 } }
        },
        y: {
          type: 'linear', min: cfg.yMin, max: cfg.yMax,
          afterBuildTicks: fixTicks(cfg.yTicks),
          afterFit: s => { s.width = 96.5; },
          grid: { drawOnChartArea: false, tickLength: 7, color: '#888' },
          border: { display: false },
          ticks: { font: { size: 9.5 }, color: '#666', padding: 6.5, minRotation: 90, maxRotation: 90,
                   crossAlign: 'center', autoSkip: false, callback: v => String(v) },
          title: { display: true, text: 'Negative log p-value', font: { size: 10.5 }, color: '#666',
                   padding: { top: 43.7, bottom: 0 } }
        }
      }
    },
    plugins: [framePlugin('#888'), boxLegendPlugin]
  });
}

drawFdrPanel('panelA', { fdr: fdrCutA, counts: deCountA, genes: genesA, genePos: genePosA, labelPos: labelPosA,
  titleTop: 6.5, titleBottom: 13.5, yMin: -527, yMax: 5216, xHeight: 74 });
drawFdrPanel('panelC', { fdr: fdrCutC, counts: deCountC, genes: genesC, genePos: genePosC, labelPos: labelPosC,
  titleTop: 19.8, titleBottom: 12.9, yMin: -511, yMax: 5205, xHeight: 74 });
drawFdrPanel('panelE', { fdr: fdrCutE, counts: deCountE, genes: genesE, genePos: genePosE, labelPos: labelPosE,
  titleTop: 30.5, titleBottom: 12.2, yMin: -400, yMax: 5227, xHeight: 74.7 });

drawVolcano('panelB', { title: 'Volcano Plot of Quantile Normalisation', pcg: pcgB, hkg: hkgB, other: otherB, radius: 2.5,
  titleTop: 9.2, titleBottom: 18.2, xMin: -1.068, xMax: 1.184, yMin: -0.47, yMax: 12.25, xTicks: logFcTicks, yTicks: pTicksB });
drawVolcano('panelD', { title: 'Volcano Plot of ComBat Adjustment', pcg: pcgD, hkg: hkgD, other: otherD, radius: 2.6,
  titleTop: 23.2, titleBottom: 17.9, xMin: -1.049, xMax: 1.072, yMin: -0.73, yMax: 19.36, xTicks: logFcTicks, yTicks: pTicksD });
drawVolcano('panelF', { title: 'Volcano Plot of RUV-2 Adjustment', pcg: pcgF, hkg: hkgF, other: otherF, radius: 2.6,
  titleTop: 33.9, titleBottom: 17.2, xMin: -0.98, xMax: 1.133, yMin: -0.886, yMax: 22.33, xTicks: logFcTicksF, yTicks: pTicksF });

// stretch the sub-figure captions to the widths they have in the page
document.querySelectorAll('.cap').forEach(el => {
  const target = parseFloat(el.dataset.width);
  const natural = el.getBoundingClientRect().width;
  el.style.transform = 'scaleX(' + (target / natural).toFixed(4) + ')';
});
</script>
</body>
</html>
